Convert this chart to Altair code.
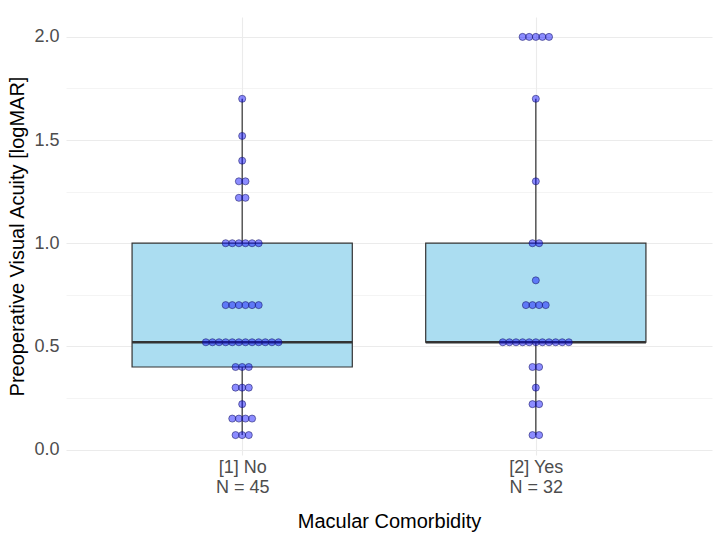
import altair as alt
import pandas as pd
import numpy as np

categories = ["[1] No", "[2] Yes"]
# distinct values and how many patients have each, per group
no_values = [0.07, 0.15, 0.22, 0.3, 0.4, 0.52, 0.7, 1.0, 1.22, 1.3, 1.4, 1.52, 1.7]
no_counts = [3, 4, 1, 3, 3, 12, 6, 6, 2, 2, 1, 1, 1]
yes_values = [0.07, 0.22, 0.3, 0.4, 0.52, 0.7, 0.82, 1.0, 1.3, 1.7, 2.0]
yes_counts = [2, 2, 1, 2, 11, 4, 1, 2, 1, 1, 5]

rows = []
for gi, (vals, cnts) in enumerate([(no_values, no_counts), (yes_values, yes_counts)], start=1):
    for v, c in zip(vals, cnts):
        for _ in range(c):
            rows.append({"group": gi, "va": v})
pts = pd.DataFrame(rows)
n_per_group = pts.groupby("group").size().tolist()

# box statistics (R type-7 quantiles)
box_rows = []
for gi, g in pts.groupby("group"):
    v = g["va"].to_numpy()
    q1, med, q3 = np.percentile(v, [25, 50, 75])
    iqr = q3 - q1
    lo = v[v >= q1 - 1.5 * iqr].min()
    hi = v[v <= q3 + 1.5 * iqr].max()
    box_rows.append({"group": gi, "q1": q1, "med": med, "q3": q3, "lo": lo, "hi": hi,
                     "left": gi - 0.375, "right": gi + 0.375})
box = pd.DataFrame(box_rows)

label_expr = "datum.value == 1 ? ['{}', 'N = {}'] : ['{}', 'N = {}']".format(
    categories[0], n_per_group[0], categories[1], n_per_group[1])

xscale = alt.Scale(domain=[0.4, 2.6], nice=False, zero=False)
yscale = alt.Scale(domain=[-0.0265, 2.0965], nice=False, zero=False)

xaxis = alt.Axis(values=[1, 2], labelExpr=label_expr, title="Macular Comorbidity",
                 domain=False, ticks=False, grid=True, gridColor="#EBEBEB", gridWidth=1.1,
                 labelFont="Liberation Sans", labelFontSize=18, labelColor="#4D4D4D",
                 labelPadding=3, labelLineHeight=20,
                 titleFont="Liberation Sans", titleFontSize=20, titleFontWeight="normal",
                 titleColor="#000000", titlePadding=15)
yaxis = alt.Axis(values=[i * 0.25 for i in range(9)],
                 labelExpr="(datum.value * 2) % 1 === 0 ? format(datum.value, '.1f') : ''",
                 title="Preoperative Visual Acuity [logMAR]",
                 domain=False, ticks=False, grid=True, gridColor="#EBEBEB",
                 gridWidth=alt.condition("(datum.value * 2) % 1 === 0", alt.value(1.1), alt.value(0.55)),
                 labelFont="Liberation Sans", labelFontSize=18, labelColor="#4D4D4D",
                 labelPadding=7,
                 titleFont="Liberation Sans", titleFontSize=20, titleFontWeight="normal",
                 titleColor="#000000", titlePadding=6)

base_box = alt.Chart(box)

whisker = base_box.mark_rule(color="#333333", strokeWidth=1.2).encode(
    x=alt.X("group:Q", scale=xscale, axis=xaxis),
    y=alt.Y("lo:Q", scale=yscale, axis=yaxis),
    y2="hi:Q",
)
bars = base_box.mark_bar(fill="#ABDDF1", stroke="#333333", strokeWidth=1.2).encode(
    x=alt.X("left:Q", scale=xscale),
    x2="right:Q",
    y=alt.Y("q1:Q", scale=yscale),
    y2="q3:Q",
)
median = base_box.mark_rule(color="#333333", strokeWidth=2.6).encode(
    x=alt.X("left:Q", scale=xscale),
    x2="right:Q",
    y=alt.Y("med:Q", scale=yscale),
)

dots = alt.Chart(pts).transform_window(
    idx="row_number()", groupby=["group", "va"]
).transform_joinaggregate(
    cnt="count()", groupby=["group", "va"]
).transform_calculate(
    xpos="datum.group + (datum.idx - (datum.cnt + 1) / 2) * 0.0225"
).mark_point(filled=True, fill="#0000FF", fillOpacity=0.45, stroke="#1a1a66",
             strokeOpacity=0.8, strokeWidth=0.7, size=50, shape="circle").encode(
    x=alt.X("xpos:Q", scale=xscale),
    y=alt.Y("va:Q", scale=yscale),
)

chart = alt.layer(whisker, bars, median, dots).properties(
    width=646, height=438,
    autosize=alt.AutoSizeParams(type="none"),
    padding={"left": 66, "top": 17, "right": 10, "bottom": 86},
    background="white",
).configure_view(stroke=None)

chart.save("out.html", embed_options={"renderer": "svg", "actions": False})
